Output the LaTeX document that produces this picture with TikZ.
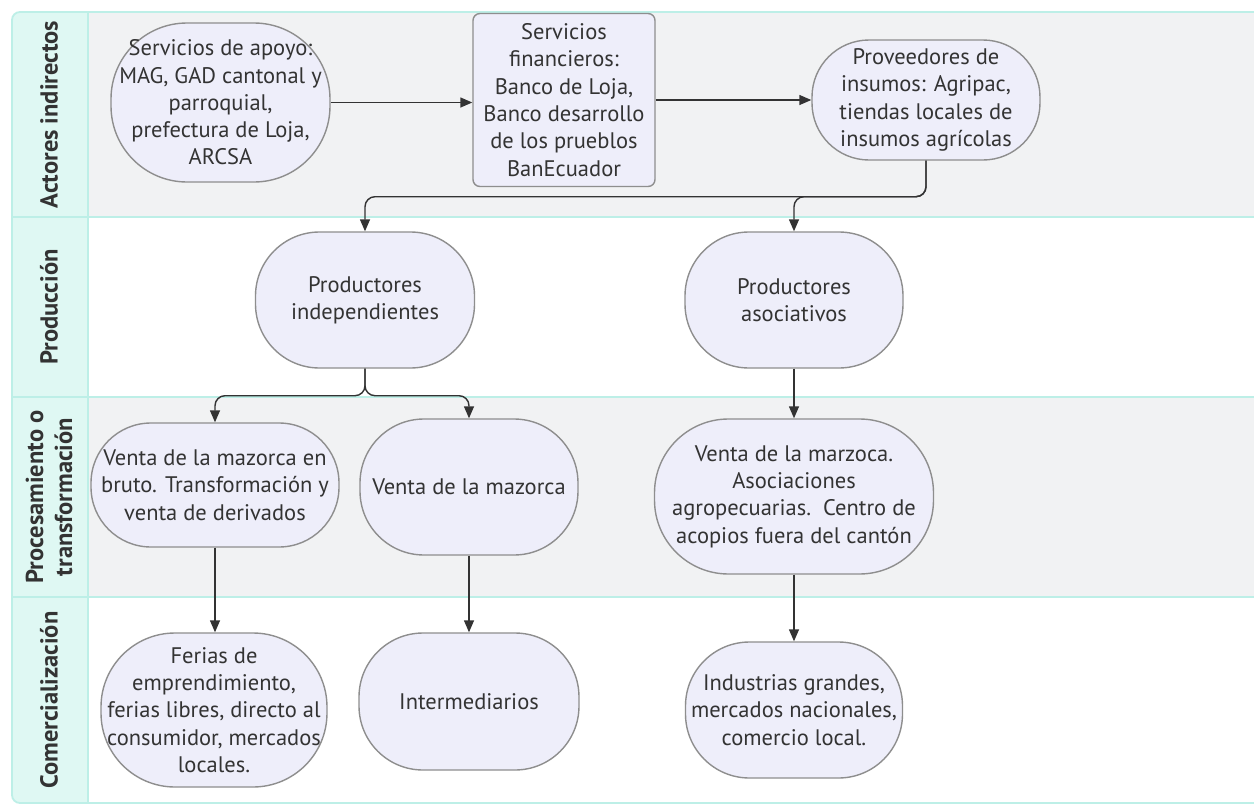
\documentclass[tikz,border=0pt]{standalone}
\usepackage{fontspec}
\setmainfont{PT Sans}
\usetikzlibrary{arrows.meta}
\definecolor{lanegray}{HTML}{F1F2F3}
\definecolor{labfill}{HTML}{DFF8F3}
\definecolor{laneline}{HTML}{BDEFE7}
\definecolor{ndfill}{HTML}{EEEEFA}
\definecolor{ndline}{HTML}{8E8E8E}
\definecolor{txt}{HTML}{333333}
\begin{document}
\begin{tikzpicture}[x=1pt,y=-1pt,
  nd/.style={draw=ndline, fill=ndfill, line width=1.4pt, align=center, inner sep=0pt,
    text=txt, font=\fontsize{22.5}{27.3}\selectfont},
  conn/.style={draw=txt, line width=1.4pt, -{Triangle[length=12pt,width=10pt]}, rounded corners=10pt},
  lanelab/.style={rotate=90, font=\bfseries\fontsize{24.5}{29}\selectfont, text=txt, align=center},
  laneborder/.style={draw=laneline, line width=1.8pt}
]
\useasboundingbox (0,0) rectangle (1254,806);
\fill[white] (0,0) rectangle (1254,806);
% label column
\fill[labfill, rounded corners=8pt] (12,12) rectangle (110,803);
% lane backgrounds
\fill[lanegray] (88,12) rectangle (1254,217);
\fill[white] (88,217) rectangle (1254,397);
\fill[lanegray] (88,397) rectangle (1254,597);
\fill[white] (88,597) rectangle (1254,803);
% lane borders
\draw[laneborder, rounded corners=8pt] (1254,12) -- (12,12) -- (12,803) -- (1254,803);
\draw[laneborder] (12,217) -- (1254,217);
\draw[laneborder] (12,397) -- (1254,397);
\draw[laneborder] (12,597) -- (1254,597);
\draw[laneborder] (88,12) -- (88,803);
% lane labels
\node[lanelab] (l1) at (49,114.5) {Actores indirectos};
\node[lanelab] (l2) at (49,307) {Producción};
\node[lanelab] (l3) at (49,497) {Procesamiento o\\transformación};
\node[lanelab] (l4) at (49,700) {Comercialización};
% nodes
\node[nd, minimum width=219pt, minimum height=159pt, rounded corners=76pt] (apoyo) at (220.5,102.5)
  {Servicios de apoyo:\\MAG, GAD cantonal y\\parroquial,\\prefectura de Loja,\\ARCSA};
\node[nd, minimum width=182pt, minimum height=173pt, rounded corners=7pt] (fin) at (564,100)
  {Servicios\\financieros:\\Banco de Loja,\\Banco desarrollo\\de los prueblos\\BanEcuador};
\node[nd, minimum width=228pt, minimum height=120pt, rounded corners=57pt] (prov) at (926,100)
  {Proveedores de\\insumos: Agripac,\\tiendas locales de\\insumos agrícolas};
\node[nd, minimum width=219pt, minimum height=136pt, rounded corners=64pt] (indep) at (365,300)
  {Productores\\independientes};
\node[nd, minimum width=218pt, minimum height=136pt, rounded corners=64pt] (asoc) at (794,300)
  {Productores\\asociativos};
\node[nd, minimum width=248pt, minimum height=124pt, rounded corners=60pt] (bruto) at (215,485)
  {Venta de la mazorca en\\bruto. Transformación y\\venta de derivados};
\node[nd, minimum width=218pt, minimum height=136pt, rounded corners=64pt] (mazorca) at (469,487)
  {Venta de la mazorca};
\node[nd, minimum width=279pt, minimum height=155pt, rounded corners=74pt] (marzoca) at (794,496.5)
  {Venta de la marzoca.\\Asociaciones\\agropecuarias.\ \ Centro de\\acopios fuera del cantón};
\node[nd, minimum width=226pt, minimum height=154pt, rounded corners=74pt] (ferias) at (214,710)
  {Ferias de\\emprendimiento,\\ferias libres, directo al\\consumidor, mercados\\locales.};
\node[nd, minimum width=220pt, minimum height=137pt, rounded corners=64pt] (inter) at (469,701.5)
  {Intermediarios};
\node[nd, minimum width=217pt, minimum height=136pt, rounded corners=64pt] (indus) at (794,710)
  {Industrias grandes,\\mercados nacionales,\\comercio local.};
% connectors
\draw[conn] (apoyo.east) -- (apoyo.east -| fin.west);
\draw[conn] (fin.east) -- (fin.east -| prov.west);
\draw[conn] (prov.south) -- ++(0,36) -| (indep.north);
\draw[conn] (prov.south) -- ++(0,36) -| (asoc.north);
\draw[conn] (indep.south) -- ++(0,27) -| (bruto.north);
\draw[conn] (indep.south) -- ++(0,27) -| (mazorca.north);
\draw[conn] (asoc.south) -- (marzoca.north);
\draw[conn] (bruto.south) -- (bruto.south |- ferias.north);
\draw[conn] (mazorca.south) -- (inter.north);
\draw[conn] (marzoca.south) -- (indus.north);
\end{tikzpicture}
\end{document}
